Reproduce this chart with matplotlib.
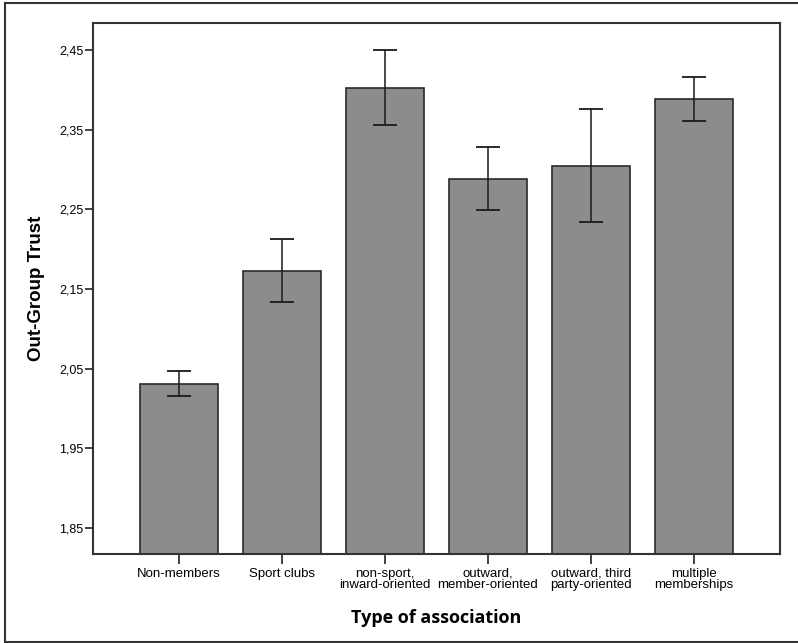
import matplotlib.pyplot as plt
from matplotlib.lines import Line2D
import numpy as np

categories = [
    "Non-members",
    "Sport clubs",
    "non-sport,\ninward-oriented",
    "outward,\nmember-oriented",
    "outward, third\nparty-oriented",
    "multiple\nmemberships",
]
means = [2.031, 2.173, 2.403, 2.288, 2.305, 2.389]
ci_low = [2.0155, 2.133, 2.356, 2.249, 2.234, 2.361]
ci_high = [2.0465, 2.2125, 2.450, 2.328, 2.3755, 2.416]
yticks = [1.85, 1.95, 2.05, 2.15, 2.25, 2.35, 2.45]

fig = plt.figure(figsize=(7.98, 6.43), dpi=100)
ax = fig.add_axes([0.1165, 0.1384, 0.861, 0.8258])

x = np.arange(len(categories))
means_a = np.array(means)
yerr = [means_a - np.array(ci_low), np.array(ci_high) - means_a]

ax.bar(x, means_a - 1.817, bottom=1.817, width=0.75, color="#8c8c8c",
       edgecolor="#2a2a2a", linewidth=1.2, zorder=2)
ax.errorbar(x, means_a, yerr=yerr, fmt="none", ecolor="#1a1a1a",
            elinewidth=1.1, capsize=8.6, capthick=1.3, zorder=3)

ax.set_xlim(-0.835, 5.835)
ax.set_ylim(1.817, 2.484)
ax.set_yticks(yticks)
ax.set_yticklabels([f"{v:.2f}".replace(".", ",") for v in yticks],
                   family="Liberation Sans", fontsize=9)
ax.set_xticks(x)
ax.set_xticklabels(categories, family="Liberation Sans", fontsize=9.5,
                   linespacing=0.9)
ax.tick_params(axis="y", length=6, width=1.2, color="#222222", pad=1)
ax.tick_params(axis="x", length=7, width=1.2, color="#222222", pad=3)

for s in ax.spines.values():
    s.set_color("#333333")
    s.set_linewidth(1.5)

ax.set_ylabel("Out-Group Trust", family="Liberation Sans", fontweight="bold",
              fontsize=13.5, labelpad=10)
ax.set_xlabel("Type of association", family="Open Sans", fontweight="bold",
              fontsize=13, labelpad=13)

# outer frame (right side cut off in the original)
frame_kw = dict(color="#333333", linewidth=1.5, transform=fig.transFigure)
fig.add_artist(Line2D([0.006, 0.006], [0.001, 0.995], **frame_kw))
fig.add_artist(Line2D([0.006, 1.0], [0.995, 0.995], **frame_kw))
fig.add_artist(Line2D([0.006, 1.0], [0.002, 0.002], **frame_kw))

fig.savefig("out.png", dpi=100)
